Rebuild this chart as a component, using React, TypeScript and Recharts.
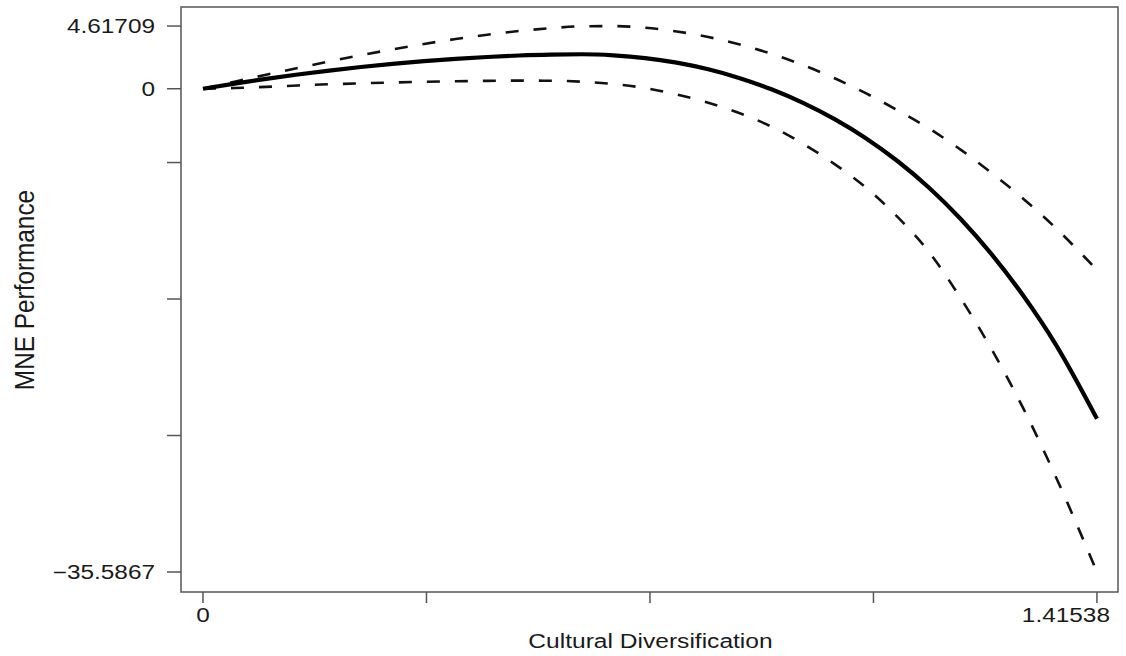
import React from 'react';
import { LineChart, Line, XAxis, YAxis, ReferenceArea, Label } from 'recharts';

// x positions (Cultural Diversification)
const xValues = [0, 0.05, 0.1, 0.15, 0.2, 0.25, 0.3, 0.35, 0.4, 0.45, 0.5, 0.55, 0.6, 0.65, 0.7, 0.75, 0.8, 0.85, 0.9, 0.95, 1.0, 1.05, 1.1, 1.15, 1.2, 1.25, 1.3, 1.35, 1.41538];
// estimated effect on MNE performance
const estimate = [0, 0.38, 0.73, 1.05, 1.34, 1.6, 1.83, 2.03, 2.2, 2.34, 2.45, 2.52, 2.54, 2.46, 2.26, 1.92, 1.43, 0.78, -0.04, -1.04, -2.24, -3.66, -5.34, -7.31, -9.61, -12.27, -15.32, -18.82, -24.3];
// upper confidence bound
const upperBound = [0, 0.52, 1.03, 1.53, 2.01, 2.47, 2.9, 3.3, 3.66, 3.98, 4.25, 4.46, 4.6, 4.61709, 4.49, 4.22, 3.81, 3.26, 2.57, 1.74, 0.77, -0.34, -1.59, -2.94, -4.5, -6.25, -8.15, -10.25, -13.35];
// lower confidence bound
const lowerBound = [0, 0.05, 0.14, 0.24, 0.33, 0.4, 0.46, 0.51, 0.55, 0.58, 0.6, 0.59, 0.52, 0.35, 0.05, -0.42, -1.03, -1.81, -2.79, -4.05, -5.55, -7.3, -9.45, -12.05, -15.45, -19.3, -23.65, -28.55, -35.5867];

const xTicks = [0, 0.353845, 0.70769, 1.061535, 1.41538];
const xTickLabels = ['0', '', '', '', '1.41538'];
const yTicks = [4.61709, 0, -5.43386, -15.4848, -25.53575, -35.5867];
const yTickLabels = ['4.61709', '0', '', '', '', '\u221235.5867'];

const xDomain = [-0.0348, 1.4487];
const yDomain = [-37.06, 6.02];

const data = xValues.map((x, i) => ({
  x,
  estimate: estimate[i],
  upper: upperBound[i],
  lower: lowerBound[i],
}));

const FONT = '"Liberation Sans", Arial, Helvetica, sans-serif';
const TEXT_COLOR = '#1a1a1a';
const AXIS_COLOR = '#555';

const XTick = (props: any) => {
  const { x, y, payload } = props;
  const idx = xTicks.indexOf(payload.value);
  const label = idx >= 0 ? xTickLabels[idx] : '';
  if (!label) return <g />;
  const isLast = idx === xTicks.length - 1;
  const tx = isLast ? x + 13 : x;
  return (
    <text
      x={0}
      y={0}
      dy="0.71em"
      transform={`translate(${tx},${y}) scale(1.25,1)`}
      textAnchor={isLast ? 'end' : 'middle'}
      fontSize={19.5}
      fontFamily={FONT}
      fill={TEXT_COLOR}
    >
      {label}
    </text>
  );
};

const YTick = (props: any) => {
  const { x, y, payload } = props;
  const idx = yTicks.indexOf(payload.value);
  const label = idx >= 0 ? yTickLabels[idx] : '';
  if (!label) return <g />;
  return (
    <text
      x={0}
      y={0}
      dy="0.355em"
      transform={`translate(${x},${y}) scale(1.25,1)`}
      textAnchor="end"
      fontSize={19.5}
      fontFamily={FONT}
      fill={TEXT_COLOR}
    >
      {label}
    </text>
  );
};

const XTitle = () => (
  <text
    x={0}
    y={0}
    transform="translate(650.5,648) scale(1.17,1)"
    textAnchor="middle"
    fontSize={21}
    fontFamily={FONT}
    fill={TEXT_COLOR}
  >
    Cultural Diversification
  </text>
);

const YTitle = () => (
  <text
    x={0}
    y={0}
    dy="0.355em"
    transform="translate(24,290) rotate(-90) scale(1.16,1.3)"
    textAnchor="middle"
    fontSize={21}
    fontFamily={FONT}
    fill={TEXT_COLOR}
  >
    MNE Performance
  </text>
);

export default function App() {
  return (
    <div style={{ position: 'absolute', left: 0, top: 0, width: 1126, height: 656, background: '#fff' }}>
      <LineChart
        width={1126}
        height={656}
        data={data}
        margin={{ top: 7, right: 8, left: 0, bottom: 0 }}
      >
        <XAxis
          dataKey="x"
          type="number"
          domain={xDomain}
          ticks={xTicks}
          interval={0}
          height={64}
          axisLine={false}
          tickLine={{ stroke: AXIS_COLOR, strokeWidth: 1.5 }}
          tickSize={11}
          tickMargin={5}
          tick={<XTick />}
          allowDataOverflow
        >
          <Label content={<XTitle />} />
        </XAxis>
        <YAxis
          type="number"
          domain={yDomain}
          ticks={yTicks}
          interval={0}
          width={181}
          axisLine={false}
          tickLine={{ stroke: AXIS_COLOR, strokeWidth: 1.5 }}
          tickSize={14}
          tickMargin={12}
          tick={<YTick />}
          allowDataOverflow
        >
          <Label content={<YTitle />} />
        </YAxis>
        <ReferenceArea
          x1={xDomain[0]}
          x2={xDomain[1]}
          y1={yDomain[0]}
          y2={yDomain[1]}
          fill="none"
          stroke={AXIS_COLOR}
          strokeWidth={1.5}
          ifOverflow="extendDomain"
        />
        <Line
          type="monotone"
          dataKey="upper"
          stroke="#111"
          strokeWidth={2.6}
          strokeDasharray="13 15"
          dot={false}
          activeDot={false}
          isAnimationActive={false}
        />
        <Line
          type="monotone"
          dataKey="lower"
          stroke="#111"
          strokeWidth={2.6}
          strokeDasharray="13 15"
          dot={false}
          activeDot={false}
          isAnimationActive={false}
        />
        <Line
          type="monotone"
          dataKey="estimate"
          stroke="#000"
          strokeWidth={4.2}
          dot={false}
          activeDot={false}
          isAnimationActive={false}
        />
      </LineChart>
    </div>
  );
}
